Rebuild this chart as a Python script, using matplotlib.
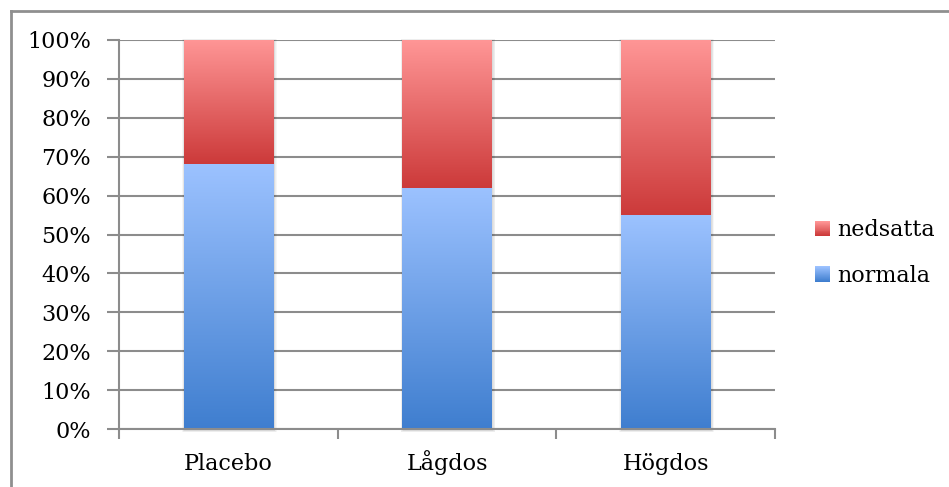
import numpy as np
import matplotlib
matplotlib.use("Agg")
import matplotlib.pyplot as plt
from matplotlib.colors import LinearSegmentedColormap, to_rgb
from matplotlib.patches import Rectangle
from matplotlib.lines import Line2D
from matplotlib.legend_handler import HandlerBase

# Data (percent of patients per group)
categories = ["Placebo", "Lågdos", "Högdos"]
normala = [68, 62, 55]
nedsatta = [32, 38, 45]
series_names = ["nedsatta", "normala"]
y_ticks = list(range(0, 101, 10))
y_tick_labels = [f"{v}%" for v in y_ticks]

# Style
blue_dark, blue_light = "#3f7ecf", "#9cc2ff"
red_dark, red_light = "#cc3a3a", "#ff9696"
grid_color = "#8c8c8c"
text_color = "#000000"
font_size = 16

plt.rcParams["font.family"] = ["DejaVu Serif"]

W, H = 949, 487
fig = plt.figure(figsize=(W / 100, H / 100), dpi=100)
ax = fig.add_axes([119 / W, 1 - 429 / H, (775 - 119) / W, (429 - 40) / H])

x = np.arange(len(categories))
bar_width = 0.41
ax.set_xlim(-0.5, len(categories) - 0.5)
ax.set_ylim(0, 100)

# pixel -> data unit conversion for the soft shadow
px_x = (len(categories)) / (775 - 119)
px_y = 100 / (429 - 40)


def gradient_fill(patch, dark, light):
    px0, py0 = patch.get_x(), patch.get_y()
    w, h = patch.get_width(), patch.get_height()
    cmap = LinearSegmentedColormap.from_list("grad", [dark, light])
    grad = np.linspace(0, 1, 256).reshape(-1, 1)
    im = ax.imshow(grad, cmap=cmap, origin="lower",
                   extent=(px0, px0 + w, py0, py0 + h),
                   aspect="auto", zorder=3, interpolation="bilinear")
    im.set_clip_path(patch)


bars_norm = ax.bar(x, normala, width=bar_width, color="none",
                   edgecolor="none", zorder=3)
bars_ned = ax.bar(x, nedsatta, bottom=normala, width=bar_width,
                  color="none", edgecolor="none", zorder=3)

# soft shadow behind each column
for xi, tot in zip(x, np.add(normala, nedsatta)):
    for k in range(1, 5):
        ax.add_patch(Rectangle((xi - bar_width / 2 - k * px_x * 0.6 + px_x,
                                -k * px_y * 0.6 - px_y),
                               bar_width + 2 * k * px_x * 0.6,
                               tot + 2 * k * px_y * 0.6,
                               facecolor="black", alpha=0.035,
                               edgecolor="none", zorder=2.5, clip_on=False))

for p in bars_norm:
    gradient_fill(p, blue_dark, blue_light)
for p in bars_ned:
    gradient_fill(p, red_dark, red_light)

ax.set_xlim(-0.5, len(categories) - 0.5)
ax.set_ylim(0, 100)

# Axes styling
ax.set_axisbelow(True)
ax.yaxis.grid(True, color=grid_color, linewidth=1.5, zorder=0)
ax.set_yticks(y_ticks)
ax.set_yticklabels(y_tick_labels, fontsize=font_size, color=text_color)
ax.tick_params(axis="y", length=9, width=1.5, color=grid_color, pad=11)

ax.set_xticks(x)
ax.set_xticklabels(categories, fontsize=font_size, color=text_color)
ax.set_xticks(np.arange(-0.5, len(categories)), minor=True)
ax.tick_params(axis="x", which="major", length=0, pad=29.5)
ax.tick_params(axis="x", which="minor", length=7, width=1.5,
               color=grid_color)
for lab in ax.get_xticklabels():
    lab.set_verticalalignment("baseline")

for side in ("top", "right"):
    ax.spines[side].set_visible(False)
for side in ("left", "bottom"):
    ax.spines[side].set_color(grid_color)
    ax.spines[side].set_linewidth(1.5)
    ax.spines[side].set_zorder(4)


# Legend with gradient swatches
class GradientHandler(HandlerBase):
    def __init__(self, dark, light, steps=16):
        super().__init__()
        self.dark = np.array(to_rgb(dark))
        self.light = np.array(to_rgb(light))
        self.steps = steps

    def create_artists(self, legend, orig_handle, xdescent, ydescent,
                       width, height, fontsize, trans):
        arts = []
        size = min(width, height)
        y0 = -ydescent + (height - size) / 2
        step_h = size / self.steps
        for i in range(self.steps):
            t = i / (self.steps - 1)
            c = self.dark * (1 - t) + self.light * t
            arts.append(Rectangle((-xdescent, y0 + i * step_h), size,
                                  step_h * 1.05, facecolor=c,
                                  edgecolor="none", transform=trans))
        return arts


h_ned = Line2D([], [])
h_norm = Line2D([], [])
fig.legend([h_ned, h_norm], series_names,
           handler_map={h_ned: GradientHandler(red_dark, red_light),
                        h_norm: GradientHandler(blue_dark, blue_light)},
           loc="center left", bbox_to_anchor=(799 / W, 1 - 253 / H),
           frameon=False, fontsize=font_size,
           handlelength=0.7, handleheight=0.7, handletextpad=0.3,
           labelspacing=1.05, borderpad=0.2)

# Outer frame lines (left and top edges)
fig.add_artist(Line2D([10.5 / W, 10.5 / W], [0, 1 - 10.5 / H],
                      color="#8f8f8f", linewidth=2, transform=fig.transFigure))
fig.add_artist(Line2D([10.5 / W, 1], [1 - 10.5 / H, 1 - 10.5 / H],
                      color="#8f8f8f", linewidth=2, transform=fig.transFigure))

fig.savefig("out.png", dpi=100)
